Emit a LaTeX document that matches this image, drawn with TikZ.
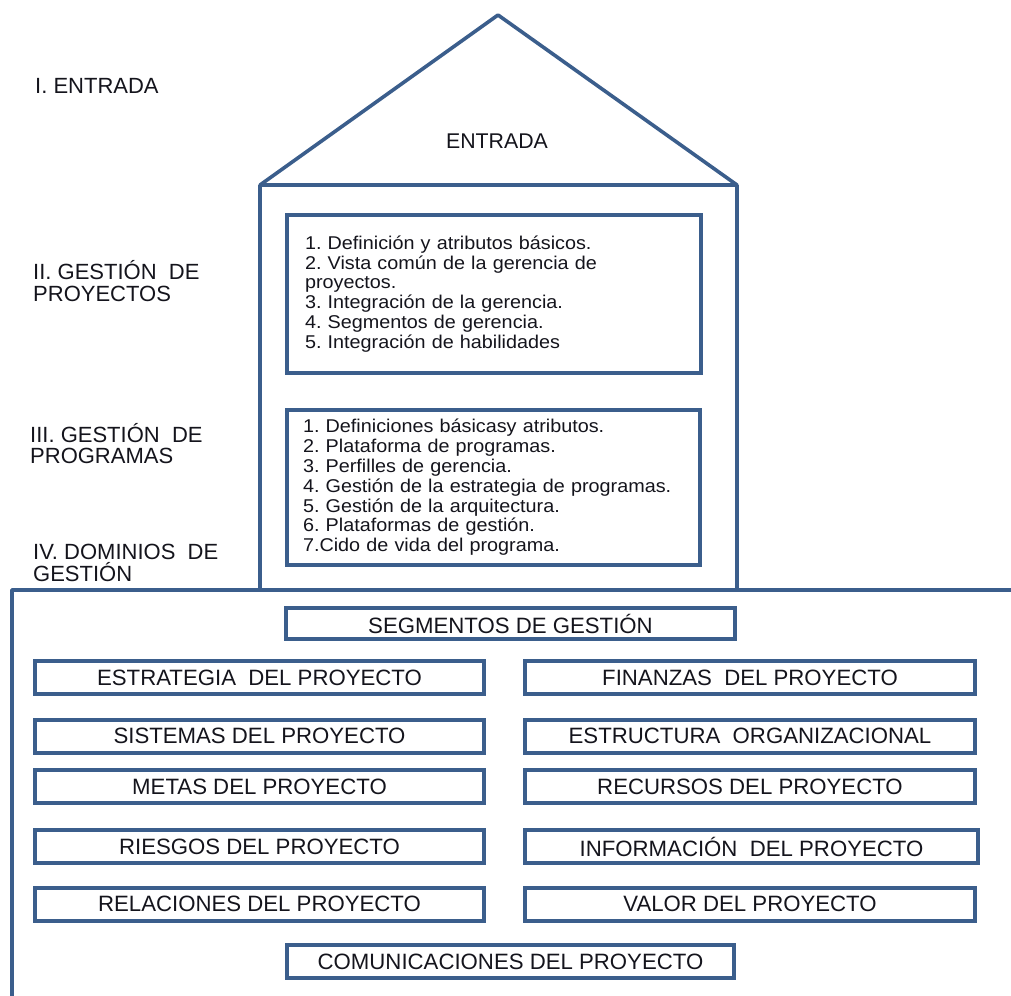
\documentclass[tikz,border=0pt]{standalone}
\usepackage{fontspec}
\setmainfont{Liberation Sans}
\newfontfamily\listfont{Liberation Sans}[FakeStretch=1.07,WordSpace=0.85]
\definecolor{frame}{RGB}{59,94,140}
\definecolor{ink}{RGB}{20,20,28}
\frenchspacing
\begin{document}
\begin{tikzpicture}[x=1pt,y=-1pt,
  outline/.style={draw=frame,line width=3.6pt,line join=round},
  listbox/.style={draw=frame,line width=4pt,align=left,text=ink,
    font=\listfont\fontsize{18.5}{19.8}\selectfont,inner xsep=18pt},
  segbox/.style={draw=frame,line width=4pt,text=ink,inner sep=0pt,
    minimum height=33pt,font=\fontsize{22.2}{24}\selectfont},
  wide/.style={segbox,minimum width=449pt},
  level/.style={align=left,anchor=west,text=ink,
    font=\fontsize{22}{22.5}\selectfont,inner sep=0pt}]
\useasboundingbox (0,0) rectangle (1011,995);

% house: roof and walls
\draw[outline] (260,185) -- (498,15) -- (737,185) -- cycle;
\draw[outline] (260,185) -- (260,590);
\draw[outline] (737,185) -- (737,590);
% open frame of the management domains
\draw[outline] (1020,590) -- (12,590) -- (12,1005);

\node[text=ink,font=\fontsize{21.3}{24}\selectfont] (entrada) at (497,141) {ENTRADA};

% level labels
\node[level] (l1) at (35,86) {I. ENTRADA};
\node[level,anchor=north west] (l2) at (33,260) {II. GESTIÓN\ \ DE\\PROYECTOS};
\node[level,anchor=north west,font=\fontsize{22}{21}\selectfont] (l3) at (30,423) {III. GESTIÓN\ \ DE\\PROGRAMAS};
\node[level,anchor=north west,font=\fontsize{22}{22}\selectfont] (l4) at (33,544) {IV. DOMINIOS\ \ DE\\GESTIÓN};

% project management box
\node[listbox,minimum width=414pt,minimum height=158pt,text width=378pt] (gp) at (494,294)
  {1. Definición y atributos básicos.\\
   2. Vista común de la gerencia de\\
   proyectos.\\
   3. Integración de la gerencia.\\
   4. Segmentos de gerencia.\\
   5. Integración de habilidades};

% program management box
\node[listbox,minimum width=413pt,minimum height=155pt,text width=381pt,inner xsep=14pt] (gpr) at (493.5,487.5)
  {1. Definiciones básicasy atributos.\\
   2. Plataforma de programas.\\
   3. Perfilles de gerencia.\\
   4. Gestión de la estrategia de programas.\\
   5. Gestión de la arquitectura.\\
   6. Plataformas de gestión.\\
   7.Cido de vida del programa.};

% management segments
\node[segbox,minimum width=449pt,minimum height=31pt] (seg) at (510.5,623.5) {SEGMENTOS DE GESTIÓN};

\node[wide] (s1) at (259.5,677.5) {ESTRATEGIA\ \ DEL PROYECTO};
\node[wide,minimum width=450pt] (s2) at (750,677.5) {FINANZAS\ \ DEL PROYECTO};
\node[wide] (s3) at (259.5,736) {SISTEMAS DEL PROYECTO};
\node[wide,minimum width=450pt] (s4) at (750,736) {ESTRUCTURA\ \ ORGANIZACIONAL};
\node[wide] (s5) at (259.5,786.5) {METAS DEL PROYECTO};
\node[wide,minimum width=450pt] (s6) at (750,786.5) {RECURSOS DEL PROYECTO};
\node[wide] (s7) at (259.5,846.5) {RIESGOS DEL PROYECTO};
\node[wide,minimum width=453pt] (s8) at (751.5,846.5) {INFORMACIÓN\ \ DEL PROYECTO};
\node[wide] (s9) at (259.5,904) {RELACIONES DEL PROYECTO};
\node[wide,minimum width=450pt] (s10) at (750,904) {VALOR DEL PROYECTO};

\node[segbox,minimum width=447pt] (com) at (510.5,961.5) {COMUNICACIONES DEL PROYECTO};
\end{tikzpicture}
\end{document}
